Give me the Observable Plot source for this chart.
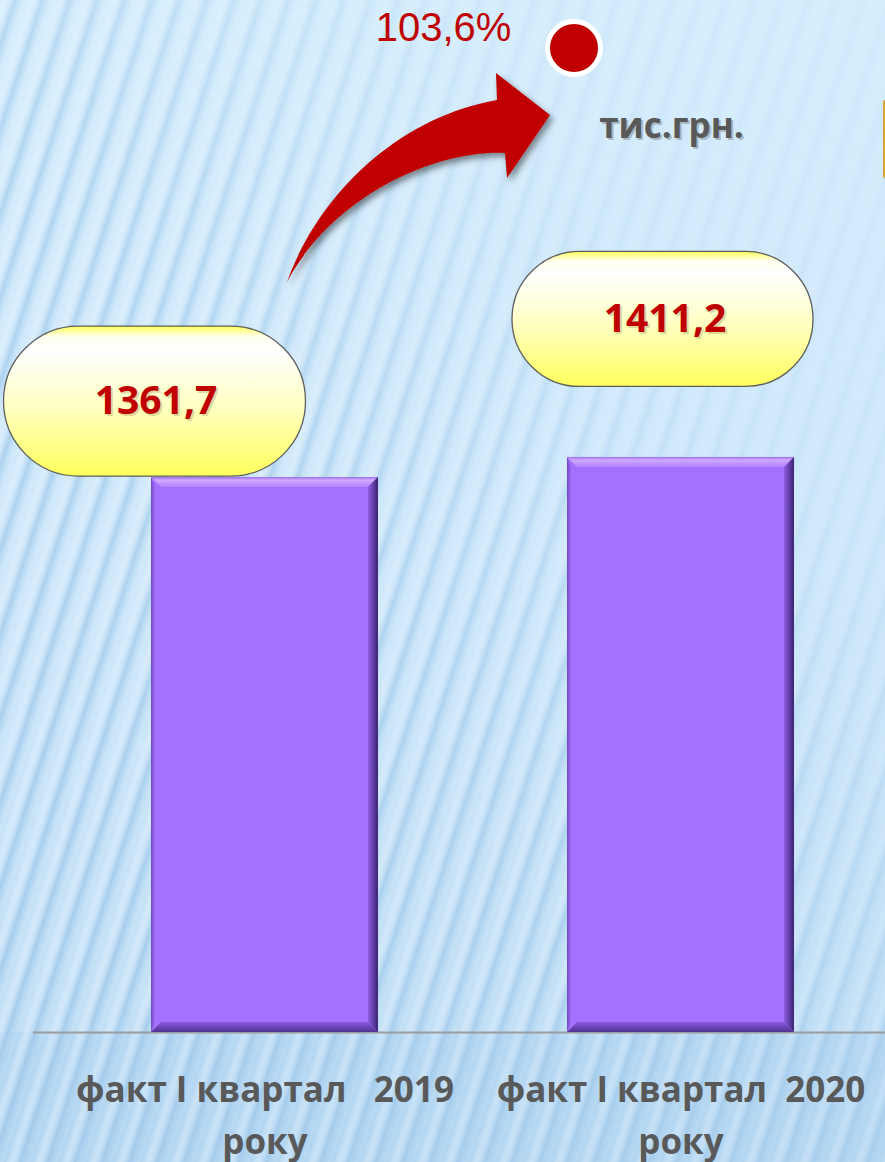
<!DOCTYPE html>
<html><head><meta charset="utf-8">
<script src="https://cdn.jsdelivr.net/npm/d3@7"></script>
<script src="https://cdn.jsdelivr.net/npm/@observablehq/plot@0.6"></script>
<style>
html,body{margin:0;padding:0;overflow:hidden;background:#cfe8fb;}
#chart svg{display:block;background:none;}
</style></head><body><div id="chart"></div>
<script>
// ---- data ----
const categories = ["факт І квартал\u00A0\u00A0\u00A02019\nроку", "факт І квартал\u00A0\u00A02020\nроку"];
const values = [1361.7, 1411.2];
const valueLabels = ["1361,7", "1411,2"];
const growthLabels = ["103,6%"];
const unitLabels = ["тис.грн."];

const rows = categories.map((category, i) => ({category, value: values[i], label: valueLabels[i]}));

// ---- layout (pixels, styling only) ----
const W = 885, H = 1162;
const pillLayout = [
  {dx: -110, dy: -76, w: 302, h: 150, tdx: -109, tdy: -76},
  {dx: -18, dy: -138, w: 301, h: 135, tdx: -16, tdy: -138}
];

function bw(sx) { return typeof sx.bandwidth === "function" ? sx.bandwidth() : sx.bandwidth; }

function background(index, scales, values, dims) {
  const g = d3.create("svg:g");
  const defs = g.append("defs");
  const base = defs.append("linearGradient").attr("id", "bgBase").attr("x1", 0).attr("y1", 0).attr("x2", 0).attr("y2", 1);
  [[0, "#d6eefd"], [0.5, "#cfe8fb"], [1, "#bcdcf4"]].forEach(([o, c]) => base.append("stop").attr("offset", o).attr("stop-color", c));
  const sg = defs.append("linearGradient").attr("id", "stripeGrad").attr("x1", 0).attr("y1", 0).attr("x2", 1).attr("y2", 0);
  [[0, "#ffffff", 0], [0.25, "#e6f4ff", 0.5], [0.55, "#9fc8ea", 0.9], [0.8, "#b6d8f2", 0.3], [1, "#ffffff", 0]].forEach(([o, c, a]) => sg.append("stop").attr("offset", o).attr("stop-color", c).attr("stop-opacity", a));
  const pat = defs.append("pattern").attr("id", "stripes").attr("patternUnits", "userSpaceOnUse").attr("width", 26).attr("height", 400).attr("patternTransform", "rotate(18)");
  pat.append("rect").attr("width", 26).attr("height", 400).attr("fill", "url(#stripeGrad)");
  const mg = defs.append("linearGradient").attr("id", "maskGrad").attr("x1", 0).attr("y1", 1).attr("x2", 1).attr("y2", 0);
  [[0, "#fff", 1], [0.45, "#fff", 0.75], [0.75, "#fff", 0.2], [1, "#fff", 0.08]].forEach(([o, c, a]) => mg.append("stop").attr("offset", o).attr("stop-color", c).attr("stop-opacity", a));
  const mask = defs.append("mask").attr("id", "stripeMask");
  mask.append("rect").attr("width", dims.width).attr("height", dims.height).attr("fill", "url(#maskGrad)");
  const pg = defs.append("linearGradient").attr("id", "pillGrad").attr("x1", 0).attr("y1", 0).attr("x2", 0).attr("y2", 1);
  [[0, "#ffff55"], [0.07, "#fffff0"], [0.16, "#ffffff"], [0.55, "#ffffc0"], [1, "#ffff5c"]].forEach(([o, c]) => pg.append("stop").attr("offset", o).attr("stop-color", c));
  const tg = defs.append("linearGradient").attr("id", "bevTop").attr("x1", 0).attr("y1", 0).attr("x2", 0).attr("y2", 1);
  [[0, "#9c72e8"], [0.3, "#d2a8ff"], [1, "#b083ff"]].forEach(([o, c]) => tg.append("stop").attr("offset", o).attr("stop-color", c));
  const rg = defs.append("linearGradient").attr("id", "bevRight").attr("x1", 0).attr("y1", 0).attr("x2", 1).attr("y2", 0);
  [[0, "#8e5de6"], [1, "#3a2470"]].forEach(([o, c]) => rg.append("stop").attr("offset", o).attr("stop-color", c));
  const bg2 = defs.append("linearGradient").attr("id", "bevBottom").attr("x1", 0).attr("y1", 0).attr("x2", 0).attr("y2", 1);
  [[0, "#8a5ce0"], [1, "#4e3190"]].forEach(([o, c]) => bg2.append("stop").attr("offset", o).attr("stop-color", c));
  const lg = defs.append("linearGradient").attr("id", "bevLeft").attr("x1", 0).attr("y1", 0).attr("x2", 1).attr("y2", 0);
  [[0, "#6f48c0"], [1, "#9d6cf8"]].forEach(([o, c]) => lg.append("stop").attr("offset", o).attr("stop-color", c));
  const f = defs.append("filter").attr("id", "arrowShadow").attr("x", "-20%").attr("y", "-20%").attr("width", "150%").attr("height", "150%");
  f.append("feDropShadow").attr("dx", 3).attr("dy", 4).attr("stdDeviation", 3).attr("flood-color", "#000").attr("flood-opacity", 0.45);
  const f2 = defs.append("filter").attr("id", "softShadow").attr("x", "-20%").attr("y", "-20%").attr("width", "150%").attr("height", "150%");
  f2.append("feDropShadow").attr("dx", 2).attr("dy", 2).attr("stdDeviation", 1.5).attr("flood-color", "#000").attr("flood-opacity", 0.3);

  g.append("rect").attr("width", dims.width).attr("height", dims.height).attr("fill", "url(#bgBase)");
  g.append("rect").attr("y", dims.height - dims.marginBottom).attr("width", dims.width).attr("height", dims.marginBottom).attr("fill", "#a9d0ee").attr("opacity", 0.55);
  g.append("rect").attr("width", dims.width).attr("height", dims.height).attr("fill", "url(#stripes)").attr("mask", "url(#stripeMask)");
  return g.node();
}

function bevels(index, scales) {
  const g = d3.create("svg:g");
  const sx = scales.x, sy = scales.y, w = bw(sx), b = 10;
  rows.forEach(r => {
    const x0 = sx(r.category), x1 = x0 + w, y0 = sy(r.value), y1 = sy(0);
    const poly = (pts, fill) => g.append("polygon").attr("points", pts.map(p => p.join(",")).join(" ")).attr("fill", fill);
    poly([[x0, y0], [x0 + b * 0.4, y0 + b], [x0 + b * 0.4, y1 - b], [x0, y1]], "url(#bevLeft)");
    poly([[x0, y0], [x1, y0], [x1 - b, y0 + b], [x0 + b, y0 + b]], "url(#bevTop)");
    poly([[x1, y0], [x1, y1], [x1 - b, y1 - b], [x1 - b, y0 + b]], "url(#bevRight)");
    poly([[x0, y1], [x1, y1], [x1 - b, y1 - b], [x0 + b, y1 - b]], "url(#bevBottom)");
  });
  return g.node();
}

function pills(index, scales) {
  const g = d3.create("svg:g");
  const sx = scales.x, sy = scales.y, w = bw(sx);
  rows.forEach((r, i) => {
    const L = pillLayout[i];
    const cx = sx(r.category) + w / 2 + L.dx, cy = sy(r.value) + L.dy;
    g.append("rect").attr("x", cx - L.w / 2).attr("y", cy - L.h / 2).attr("width", L.w).attr("height", L.h)
      .attr("rx", L.h / 2).attr("ry", L.h / 2).attr("fill", "url(#pillGrad)").attr("stroke", "#5e5e5e").attr("stroke-width", 1.3);
  });
  return g.node();
}

function decorations(index, scales, values, dims) {
  const g = d3.create("svg:g");
  g.append("path")
    .attr("d", "M287,282 C318,196 396,118 497,100 L496,73 L550,115 L507,178 L505,153 C430,150 330,200 287,282 Z")
    .attr("fill", "#c00000").attr("filter", "url(#arrowShadow)");
  g.append("circle").attr("cx", 574).attr("cy", 48).attr("r", 26.5).attr("fill", "#c00000").attr("stroke", "#ffffff").attr("stroke-width", 5);
  g.append("rect").attr("x", 883).attr("y", 100).attr("width", 6).attr("height", 78).attr("rx", 2).attr("fill", "#dba23a").attr("filter", "url(#softShadow)");
  return g.node();
}

const valueFont = {fontFamily: "'Open Sans', sans-serif", fontWeight: "bold", fontSize: 39};
const anchorMid = {frameAnchor: "top-left", textAnchor: "middle", lineAnchor: "middle"};

const marks = [
  background,
  Plot.ruleY([0], {stroke: "#9c9c9c", strokeWidth: 2}),
  Plot.barY(rows, {x: "category", y: "value", fill: "#a371fd"}),
  bevels,
  decorations,
  pills
];
rows.forEach((r, i) => {
  const L = pillLayout[i];
  marks.push(Plot.text([r], {x: "category", y: "value", text: "label", dx: L.tdx + 2, dy: L.tdy + 2, fill: "#8a7a40", fillOpacity: 0.3, ...valueFont}));
  marks.push(Plot.text([r], {x: "category", y: "value", text: "label", dx: L.tdx, dy: L.tdy, fill: "#c00000", ...valueFont}));
});
marks.push(
  Plot.text(growthLabels, {...anchorMid, text: d => d, dx: 410, dy: -4, fill: "#c00000", fontFamily: "'Liberation Sans', Arial, sans-serif", fontSize: 40}),
  Plot.text(unitLabels, {...anchorMid, text: d => d, dx: 640, dy: 96, fill: "#7a7a7a", fillOpacity: 0.45, fontFamily: "'Open Sans', sans-serif", fontWeight: "bold", fontSize: 35}),
  Plot.text(unitLabels, {...anchorMid, text: d => d, dx: 638, dy: 94, fill: "#595959", fontFamily: "'Open Sans', sans-serif", fontWeight: "bold", fontSize: 35}),
  Plot.axisX({label: null, tickSize: 0, tickPadding: 32, fontSize: 35, fontWeight: "bold", fill: "#595959", lineHeight: 1.5, fontFamily: "'Open Sans', sans-serif"})
);

const chart = Plot.plot({
  width: W, height: H,
  marginTop: 32, marginBottom: 130, marginLeft: 33, marginRight: 0,
  style: {background: "none", fontFamily: "'Open Sans', sans-serif"},
  x: {domain: categories, paddingInner: 0.455, paddingOuter: 0.25, align: 0.566, label: null},
  y: {domain: [0, 2454], axis: null},
  marks
});
document.getElementById("chart").append(chart);
</script></body></html>
